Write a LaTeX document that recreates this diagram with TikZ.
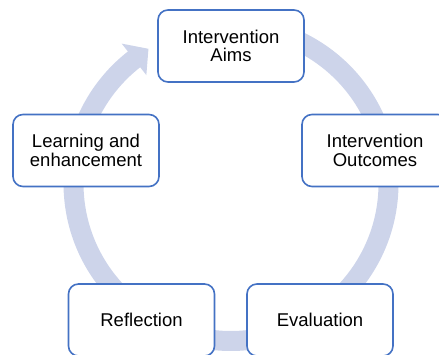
\documentclass[tikz,border=0pt]{standalone}
\usepackage{fontspec}
\setmainfont{Liberation Sans}
\usetikzlibrary{calc}
\definecolor{boxblue}{RGB}{68,114,196}
\definecolor{ringblue}{RGB}{205,212,234}
\begin{document}
\begin{tikzpicture}[x=1pt,y=1pt,%
% common options for the stage boxes:
stage/.style = {draw=boxblue, line width=1.6pt, fill=white, rounded corners=10pt,
            minimum width=146pt, minimum height=72pt, align=center,
            font=\fontsize{18.5}{18.5}\selectfont, inner sep=0},
% common options for the ring:
ring/.style = {draw=ringblue, line width=20pt}]
\useasboundingbox (0,0) rectangle (439,355);
\coordinate (C) at (231,171.5);
\coordinate (W1) at ($(C)+(128:177.5)$);
\coordinate (W2) at ($(C)+(128:137.5)$);
\coordinate (T) at ($(C)+(121.5:158)$);
\draw[ring] ($(C)+(95:157.5)$) arc[start angle=95, end angle=-232.2, radius=157.5];
\fill[ringblue] (W1) -- (T) -- (W2) -- cycle;
\node[stage] (aims) at (231,309) {Intervention\\Aims};
\node[stage] (outcomes) at (375,204.5) {Intervention\\Outcomes};
\node[stage] (learning) at (86,204.5) {Learning and\\enhancement};
\node[stage] (reflection) at (141.5,35) {Reflection};
\node[stage] (evaluation) at (320,35) {Evaluation};
\end{tikzpicture}
\end{document}
